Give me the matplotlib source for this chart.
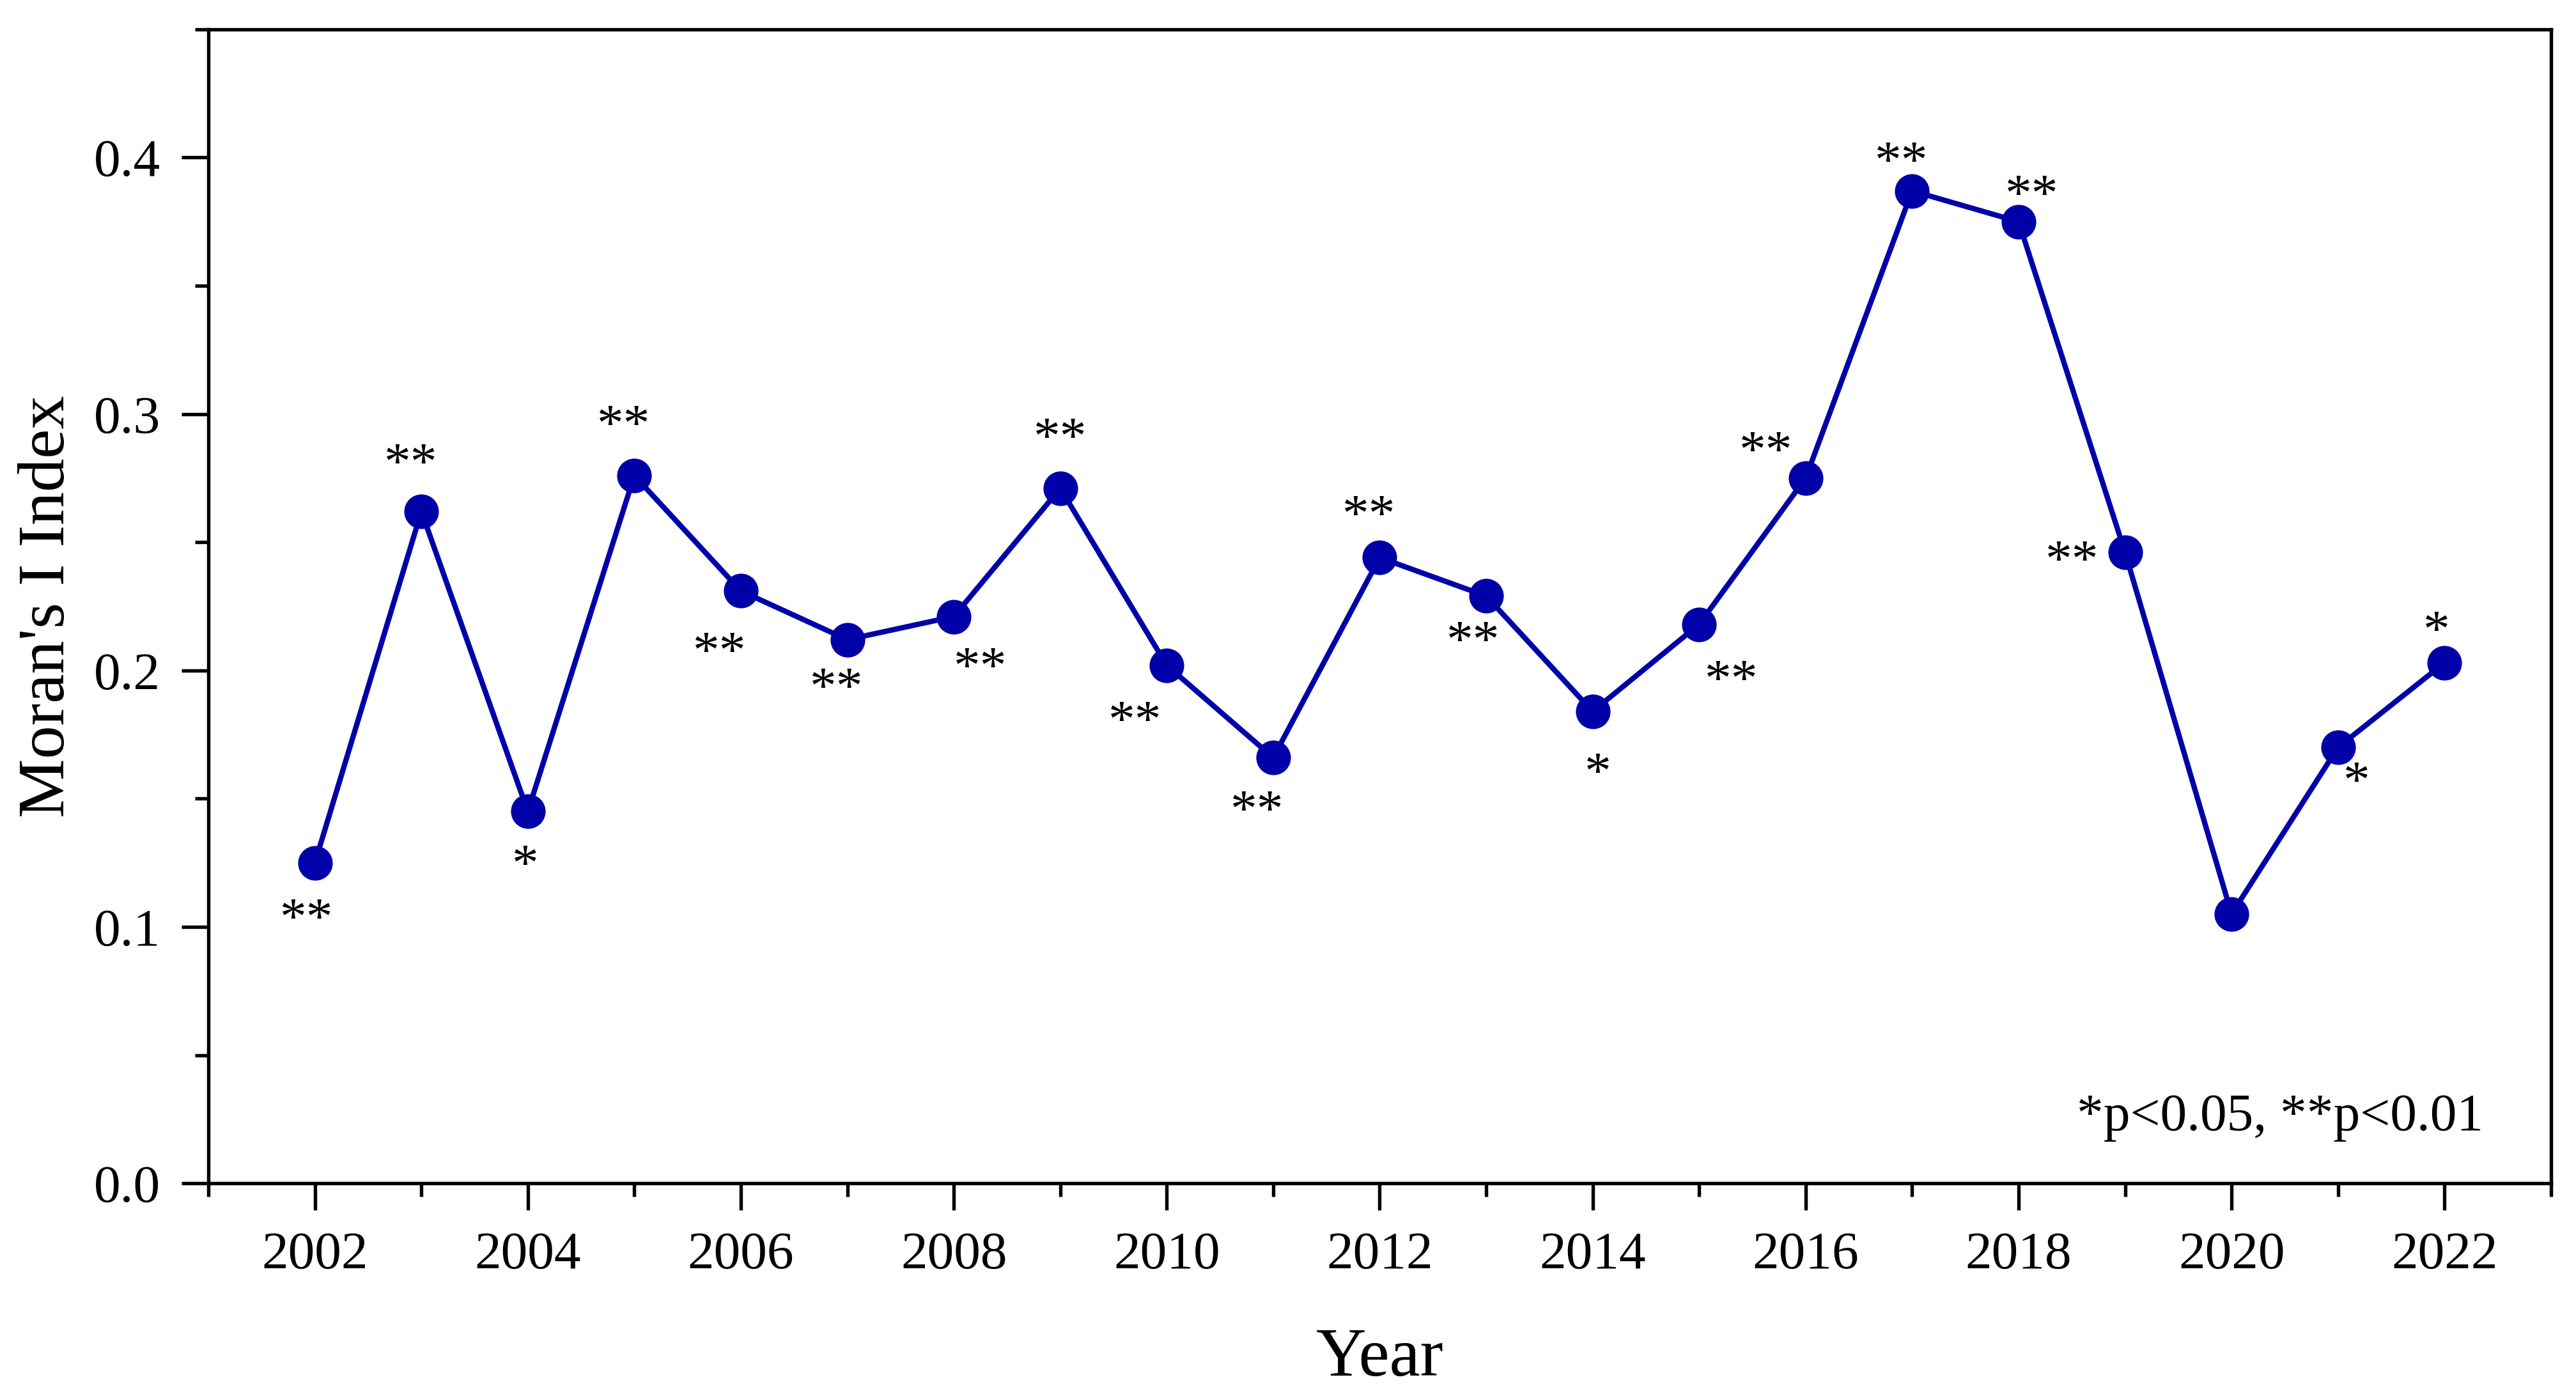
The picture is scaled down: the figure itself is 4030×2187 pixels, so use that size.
import matplotlib
matplotlib.use("Agg")
import matplotlib.pyplot as plt
from matplotlib.ticker import MultipleLocator, FormatStrFormatter

# data
years = list(range(2002, 2023))
morans_i = [0.125, 0.262, 0.145, 0.276, 0.231, 0.212, 0.221, 0.271, 0.202, 0.166,
            0.244, 0.229, 0.184, 0.218, 0.275, 0.387, 0.375, 0.246, 0.105, 0.170, 0.203]
signif = ["**", "**", "*", "**", "**", "**", "**", "**", "**", "**",
          "**", "**", "*", "**", "**", "**", "**", "**", "", "*", "*"]

# label offsets from each point (points)
label_dx = [-3, -4, -1, -4, -8, -4, 10, 0, -12, -6, -4, -5, 2, 12, -15, -4, 5, -20, 0, 7, -3]
label_dy = [-17, 22, -16, 23, -19, -14, -15, 23, -17, -16, 20, -13, -19, -17, 14, 15, 14, 1, 0, -9, 16]

plt.rcParams['font.family'] = ['Liberation Serif', 'DejaVu Serif']

fig = plt.figure(figsize=(4030 / 300, 2187 / 300), dpi=300)
ax = fig.add_axes([0.0809, 0.1536, 0.9094, 0.8254])

line_color = '#0000A8'
ax.plot(years, morans_i, color=line_color, linewidth=2.0, marker='o', markersize=12)

# significance stars
for x, y, s, dx, dy in zip(years, morans_i, signif, label_dx, label_dy):
    if s:
        ax.annotate(s, (x, y), xytext=(dx, dy - 5), textcoords='offset points',
                    ha='center', va='center', fontsize=20)

ax.text(0.971, 0.057, "*p<0.05, **p<0.01", transform=ax.transAxes,
        ha='right', va='center', fontsize=20)

ax.set_xlim(2001, 2023)
ax.set_ylim(0, 0.45)
ax.xaxis.set_major_locator(MultipleLocator(2))
ax.xaxis.set_minor_locator(MultipleLocator(1))
ax.yaxis.set_major_locator(MultipleLocator(0.1))
ax.yaxis.set_minor_locator(MultipleLocator(0.05))
ax.yaxis.set_major_formatter(FormatStrFormatter('%.1f'))

for sp in ax.spines.values():
    sp.set_linewidth(1.3)
ax.tick_params(which='major', direction='out', length=10, width=1.3, labelsize=20, pad=8)
ax.tick_params(which='minor', direction='out', length=5, width=1.3)

ax.set_xlabel("Year", fontsize=26, labelpad=18)
ax.set_ylabel("Moran's I Index", fontsize=25, labelpad=6)

fig.savefig("out.png", dpi=300)
